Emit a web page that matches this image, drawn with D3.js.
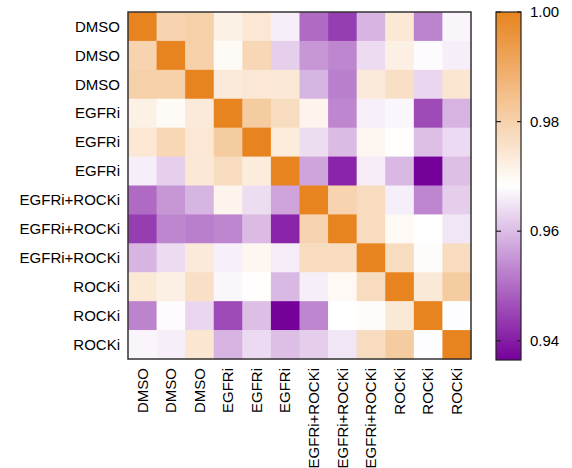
<!DOCTYPE html>
<html>
<head>
<meta charset="utf-8">
<script src="https://cdn.jsdelivr.net/npm/d3@7"></script>
<style>
  body { margin: 0; background: #fff; }
  text { font-family: "Liberation Sans", Arial, sans-serif; fill: #000; }
</style>
</head>
<body>
<svg id="chart" width="572" height="468"></svg>
<script>
// sample labels (rows and columns are the same)
var samples = ['DMSO', 'DMSO', 'DMSO', 'EGFRi', 'EGFRi', 'EGFRi',
  'EGFRi+ROCKi', 'EGFRi+ROCKi', 'EGFRi+ROCKi', 'ROCKi', 'ROCKi', 'ROCKi'];

// correlation matrix
var corr = [
  [1.0000, 0.9796, 0.9804, 0.9719, 0.9744, 0.9661, 0.9497, 0.9441, 0.9589, 0.9742, 0.9529, 0.9670],
  [0.9796, 1.0000, 0.9804, 0.9695, 0.9786, 0.9623, 0.9552, 0.9532, 0.9638, 0.9721, 0.9677, 0.9661],
  [0.9804, 0.9804, 1.0000, 0.9737, 0.9744, 0.9742, 0.9590, 0.9523, 0.9737, 0.9765, 0.9633, 0.9747],
  [0.9719, 0.9695, 0.9737, 1.0000, 0.9817, 0.9773, 0.9708, 0.9532, 0.9663, 0.9672, 0.9457, 0.9588],
  [0.9744, 0.9786, 0.9744, 0.9817, 1.0000, 0.9732, 0.9640, 0.9598, 0.9703, 0.9685, 0.9603, 0.9637],
  [0.9661, 0.9623, 0.9742, 0.9773, 0.9732, 1.0000, 0.9569, 0.9411, 0.9659, 0.9594, 0.9365, 0.9603],
  [0.9497, 0.9552, 0.9590, 0.9708, 0.9640, 0.9569, 1.0000, 0.9796, 0.9773, 0.9661, 0.9532, 0.9622],
  [0.9441, 0.9532, 0.9523, 0.9532, 0.9598, 0.9411, 0.9796, 1.0000, 0.9773, 0.9698, 0.9683, 0.9651],
  [0.9589, 0.9638, 0.9737, 0.9663, 0.9703, 0.9659, 0.9773, 0.9773, 1.0000, 0.9773, 0.9690, 0.9773],
  [0.9742, 0.9721, 0.9765, 0.9672, 0.9685, 0.9594, 0.9661, 0.9698, 0.9773, 1.0000, 0.9739, 0.9817],
  [0.9529, 0.9677, 0.9633, 0.9457, 0.9603, 0.9365, 0.9532, 0.9683, 0.9690, 0.9739, 1.0000, 0.9679],
  [0.9670, 0.9661, 0.9747, 0.9588, 0.9637, 0.9603, 0.9622, 0.9651, 0.9773, 0.9817, 0.9679, 1.0000]
];

var colorTicks = [0.94, 0.96, 0.98, 1.00];
var colorMin = 0.9365, colorMax = 1.0;

var svg = d3.select('#chart'),
  mapLeft = 128, mapTop = 12, mapRight = 471, mapBottom = 359;

var idx = d3.range(samples.length);
var x = d3.scaleBand().domain(idx).range([mapLeft, mapRight]),
  y = d3.scaleBand().domain(idx).range([mapTop, mapBottom]);

var color = d3.scaleLinear()
  .domain([colorMin, (colorMin + colorMax) / 2, colorMax])
  .range(['#76009a', '#ffffff', '#e8841f'])
  .interpolate(d3.interpolateRgb);

// cells
var cells = [];
corr.forEach(function(row, i) {
  row.forEach(function(v, j) { cells.push({r: i, c: j, v: v}); });
});

svg.append('g').selectAll('rect')
  .data(cells)
  .enter().append('rect')
  .attr('x', function(d) { return x(d.c); })
  .attr('y', function(d) { return y(d.r); })
  .attr('width', x.bandwidth() + 0.5)
  .attr('height', y.bandwidth() + 0.5)
  .attr('fill', function(d) { return color(d.v); });

svg.append('rect')
  .attr('x', mapLeft).attr('y', mapTop)
  .attr('width', mapRight - mapLeft).attr('height', mapBottom - mapTop)
  .attr('fill', 'none').attr('stroke', '#333').attr('stroke-width', 1.5);

// row labels
svg.append('g').selectAll('text')
  .data(idx)
  .enter().append('text')
  .attr('x', mapLeft - 8)
  .attr('y', function(d) { return y(d) + y.bandwidth() / 2; })
  .attr('dy', '0.35em')
  .attr('text-anchor', 'end')
  .style('font-size', '15px')
  .text(function(d) { return samples[d]; });

// column labels
svg.append('g').selectAll('text')
  .data(idx)
  .enter().append('text')
  .attr('transform', function(d) {
    return 'translate(' + (x(d) + x.bandwidth() / 2) + ',' + (mapBottom + 9) + ') rotate(-90)';
  })
  .attr('dy', '0.35em')
  .attr('text-anchor', 'end')
  .style('font-size', '15px')
  .text(function(d) { return samples[d]; });

// colour bar
var cbLeft = 496, cbWidth = 25, cbTop = 12, cbBottom = 360;
var cy = d3.scaleLinear().domain([colorMin, colorMax]).range([cbBottom, cbTop]);

var defs = svg.append('defs');
var grad = defs.append('linearGradient')
  .attr('id', 'cbgrad')
  .attr('x1', 0).attr('y1', 1).attr('x2', 0).attr('y2', 0);
d3.range(0, 1.0001, 0.05).forEach(function(t) {
  grad.append('stop')
    .attr('offset', t)
    .attr('stop-color', color(colorMin + t * (colorMax - colorMin)));
});

svg.append('rect')
  .attr('x', cbLeft).attr('y', cbTop)
  .attr('width', cbWidth).attr('height', cbBottom - cbTop)
  .attr('fill', 'url(#cbgrad)')
  .attr('stroke', '#222').attr('stroke-width', 1.2);

var tk = svg.append('g').selectAll('g')
  .data(colorTicks)
  .enter().append('g');
tk.append('line')
  .attr('x1', cbLeft).attr('x2', cbLeft + 5)
  .attr('y1', function(d) { return cy(d); }).attr('y2', function(d) { return cy(d); })
  .attr('stroke', '#222').attr('stroke-width', 1.2);
tk.append('line')
  .attr('x1', cbLeft + cbWidth - 4).attr('x2', cbLeft + cbWidth)
  .attr('y1', function(d) { return cy(d); }).attr('y2', function(d) { return cy(d); })
  .attr('stroke', '#222').attr('stroke-width', 1.2);
tk.append('text')
  .attr('x', cbLeft + cbWidth + 9)
  .attr('y', function(d) { return cy(d); })
  .attr('dy', '0.35em')
  .style('font-size', '15px')
  .text(function(d) { return d3.format('.2f')(d); });
</script>
</body>
</html>
